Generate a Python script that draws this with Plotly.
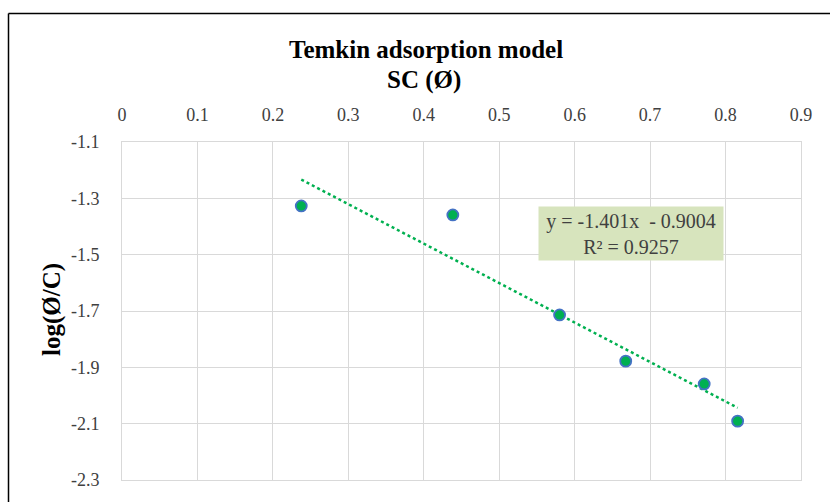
import plotly.graph_objects as go

# Data
sc_theta = [0.2376, 0.4385, 0.580, 0.6677, 0.7717, 0.816]
log_theta_c = [-1.327, -1.359, -1.714, -1.878, -1.959, -2.091]
trend_slope = -1.401
trend_intercept = -0.9004
r_squared = 0.9257
x_ticks = [0, 0.1, 0.2, 0.3, 0.4, 0.5, 0.6, 0.7, 0.8, 0.9]
y_ticks = [-1.1, -1.3, -1.5, -1.7, -1.9, -2.1, -2.3]

W, H = 830, 502
# plot area in screen pixels
PL, PR, PT, PB = 122, 801, 142, 484
ML, MT = PL, PT
MR, MB = W - PR, H - PB
PW, PH = PR - PL, PB - PT

def px_x(p):
    return (p - PL) / PW

def px_y(p):
    return (PB - p) / PH

FONT = "Liberation Serif, Times New Roman, serif"

trend_x = [min(sc_theta), max(sc_theta)]
trend_y = [trend_slope * v + trend_intercept for v in trend_x]

fig = go.Figure()
fig.add_trace(go.Scatter(
    x=trend_x, y=trend_y, mode="lines",
    line=dict(color="#00B050", width=2.5, dash="dot"),
    showlegend=False, hoverinfo="skip"))
fig.add_trace(go.Scatter(
    x=sc_theta, y=log_theta_c, mode="markers",
    marker=dict(color="#00B050", size=11, line=dict(color="#4472C4", width=1.8)),
    showlegend=False))

axis_common = dict(
    showgrid=True, gridcolor="#D9D9D9", gridwidth=1,
    showline=True, linecolor="#D9D9D9", linewidth=1, mirror=True,
    zeroline=False, ticks="",
    tickfont=dict(family=FONT, size=18, color="#404040"),
)

fig.update_layout(
    width=W, height=H,
    margin=dict(l=ML, r=MR, t=MT, b=MB),
    paper_bgcolor="white", plot_bgcolor="white",
    xaxis=dict(range=[0, 0.9], tickvals=x_ticks, side="top",
               ticklabelstandoff=13, **axis_common),
    yaxis=dict(range=[-2.3, -1.1], tickvals=y_ticks,
               ticktext=[f"{v:.1f}" for v in y_ticks],
               ticklabelstandoff=18, **axis_common),
    font=dict(family=FONT),
)

eq = f"y = {trend_slope:.3f}x  - {abs(trend_intercept):.4f}<br>R² = {r_squared:.4f}"
fig.add_annotation(
    x=0.6744, y=-1.4246, xref="x", yref="y", text=eq, showarrow=False,
    font=dict(family=FONT, size=20, color="#404040"),
    bgcolor="#D7E4BD", width=180, height=49, borderpad=2, align="center")

fig.add_annotation(
    x=px_x(426), y=px_y(48), xref="paper", yref="paper",
    text="<b>Temkin adsorption model</b>", showarrow=False,
    font=dict(family=FONT, size=25, color="#000000"), xanchor="center", yanchor="middle")
fig.add_annotation(
    x=px_x(424), y=px_y(79), xref="paper", yref="paper",
    text="<b>SC (Ø)</b>", showarrow=False,
    font=dict(family=FONT, size=25, color="#000000"), xanchor="center", yanchor="middle")
fig.add_annotation(
    x=px_x(52), y=px_y(312), xref="paper", yref="paper",
    text="<b>log(Ø/C)</b>", showarrow=False, textangle=-90,
    font=dict(family=FONT, size=25, color="#000000"), xanchor="center", yanchor="middle")

# outer chart frame (top and left edges visible in the crop)
fig.add_shape(type="line", xref="paper", yref="paper",
              x0=px_x(8.5), x1=px_x(840), y0=px_y(12), y1=px_y(12),
              line=dict(color="#000000", width=1.5), layer="above")
fig.add_shape(type="line", xref="paper", yref="paper",
              x0=px_x(8.5), x1=px_x(8.5), y0=px_y(12), y1=px_y(520),
              line=dict(color="#000000", width=1.5), layer="above")

fig.write_html(
    "out.html",
    config={"displayModeBar": False},
    post_script="document.body.style.margin='0';document.body.style.overflow='hidden';",
)
